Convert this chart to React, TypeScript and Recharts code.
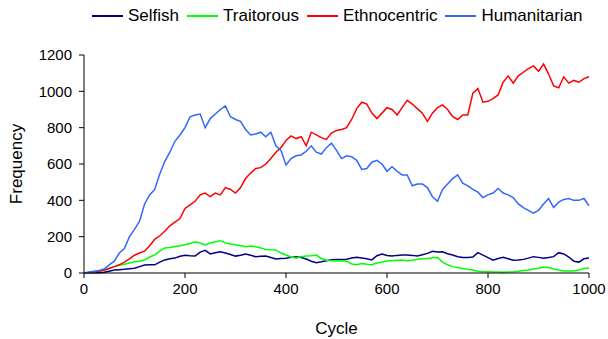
import React from 'react';
import { LineChart, Line, XAxis, YAxis, Label } from 'recharts';

// sampled every 10 cycles, 0..1000
const selfish = [
  0, 1, 2, 2, 4, 10, 16, 18, 20, 23, 26, 35, 44, 46, 45, 60, 72, 78, 82, 92,
  98, 95, 93, 115, 125, 105, 112, 117, 110, 102, 93, 98, 105, 98, 90, 92, 93, 85, 77, 80,
  81, 86, 90, 85, 77, 65, 57, 62, 68, 73, 75, 75, 76, 82, 86, 82, 78, 72, 95, 104,
  96, 93, 97, 99, 99, 97, 94, 100, 108, 120, 115, 117, 106, 99, 90, 86, 86, 88, 112, 98,
  85, 71, 80, 86, 78, 70, 72, 75, 82, 90, 86, 81, 85, 90, 112, 105, 88, 65, 60, 78,
  82,
];

const traitorous = [
  0, 3, 7, 12, 18, 27, 35, 42, 48, 55, 62, 65, 71, 88, 100, 120, 138, 140, 146, 150,
  155, 162, 172, 165, 155, 165, 172, 178, 165, 160, 155, 150, 145, 148, 145, 138, 130, 128, 127, 110,
  99, 88, 82, 90, 93, 95, 99, 80, 70, 68, 66, 68, 65, 50, 45, 52, 48, 45, 55, 60,
  66, 68, 70, 71, 68, 70, 76, 78, 80, 84, 85, 60, 45, 35, 30, 25, 20, 16, 10, 7,
  7, 6, 5, 4, 6, 7, 10, 14, 17, 22, 26, 33, 30, 22, 16, 11, 11, 11, 16, 25,
  27,
];

const ethnocentric = [
  0, 3, 6, 10, 15, 25, 35, 45, 60, 78, 98, 110, 120, 150, 185, 205, 230, 260, 280, 300,
  355, 375, 395, 430, 440, 420, 440, 430, 470, 460, 440, 470, 520, 550, 575, 580, 600, 630, 665, 690,
  730, 755, 740, 750, 700, 775, 760, 745, 735, 770, 785, 790, 800, 845, 905, 940, 930, 880, 850, 880,
  910, 900, 870, 910, 950, 930, 905, 880, 835, 880, 910, 925, 900, 860, 845, 870, 870, 990, 1015, 940,
  945, 960, 980, 1050, 1085, 1045, 1085, 1105, 1125, 1140, 1110, 1150, 1095, 1030, 1020, 1080, 1045, 1060, 1050, 1070,
  1080,
];

const humanitarian = [
  0, 5, 10, 14, 22, 45, 65, 110, 135, 200, 240, 285, 380, 430, 460, 545, 615, 665, 725, 760,
  800, 860, 870, 875, 800, 850, 875, 900, 920, 860, 845, 835, 790, 760, 765, 775, 750, 775, 700, 675,
  595, 630, 645, 650, 670, 700, 665, 655, 690, 715, 675, 630, 645, 640, 620, 570, 575, 610, 620, 600,
  560, 585, 560, 540, 540, 480, 490, 490, 470, 420, 395, 460, 490, 520, 540, 495, 480, 460, 445, 415,
  430, 440, 465, 440, 430, 415, 380, 360, 345, 330, 345, 380, 410, 360, 390, 405, 410, 400, 400, 410,
  370,
];

const xTicks = [0, 200, 400, 600, 800, 1000];
const yTicks = [0, 200, 400, 600, 800, 1000, 1200];

const series = [
  { key: 'selfish', name: 'Selfish', color: '#000080', values: selfish },
  { key: 'traitorous', name: 'Traitorous', color: '#00ff00', values: traitorous },
  { key: 'ethnocentric', name: 'Ethnocentric', color: '#ff0000', values: ethnocentric },
  { key: 'humanitarian', name: 'Humanitarian', color: '#3366ff', values: humanitarian },
];

const data = selfish.map((_, i) => {
  const row: Record<string, number> = { cycle: i * 10 };
  series.forEach((s) => {
    row[s.key] = s.values[i];
  });
  return row;
});

const font = '"Liberation Sans", Arial, sans-serif';

export default function App() {
  return (
    <div style={{ position: 'absolute', left: 0, top: 0, width: 608, height: 339, background: '#fff', fontFamily: font }}>
      <div style={{ position: 'absolute', left: 92, top: 6, display: 'flex', alignItems: 'center', fontSize: 17, color: '#000', lineHeight: '20px' }}>
        {series.map((s) => (
          <div key={s.key} style={{ display: 'flex', alignItems: 'center', marginRight: 8 }}>
            <svg width={31} height={4} style={{ marginRight: 5 }}>
              <line x1={0} y1={2} x2={31} y2={2} stroke={s.color} strokeWidth={2} />
            </svg>
            <span>{s.name}</span>
          </div>
        ))}
      </div>
      <LineChart width={608} height={339} data={data} margin={{ top: 55, right: 19, bottom: 16, left: 24 }}>
        <XAxis
          dataKey="cycle"
          type="number"
          domain={[0, 1000]}
          ticks={xTicks}
          interval={0}
          stroke="#000"
          tickSize={5}
          tickMargin={5}
          tick={{ fill: '#000', fontSize: 15, fontFamily: font }}
          height={50}
        >
          <Label value="Cycle" position="insideBottom" offset={-11} style={{ fill: '#000', fontSize: 17, fontFamily: font }} />
        </XAxis>
        <YAxis
          type="number"
          domain={[0, 1200]}
          ticks={yTicks}
          interval={0}
          stroke="#000"
          tickSize={5}
          tickMargin={7}
          tick={{ fill: '#000', fontSize: 15, fontFamily: font }}
          width={60}
        >
          <Label value="Frequency" angle={-90} position="insideLeft" offset={-8} style={{ fill: '#000', fontSize: 17, fontFamily: font, textAnchor: 'middle' }} />
        </YAxis>
        {series.map((s) => (
          <Line
            key={s.key}
            dataKey={s.key}
            name={s.name}
            stroke={s.color}
            strokeWidth={1.5}
            dot={false}
            type="linear"
            isAnimationActive={false}
          />
        ))}
      </LineChart>
    </div>
  );
}
